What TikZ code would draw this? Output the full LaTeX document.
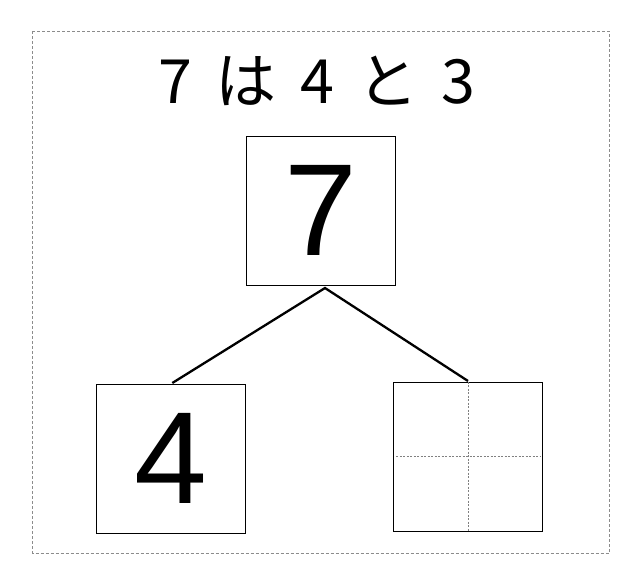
\documentclass[tikz,border=0pt]{standalone}
\usepackage{fontspec}
\newfontfamily\cjk{Noto Sans CJK JP}
\newfontfamily\digits{Liberation Sans}
\newcommand\tgap{\hspace{0.38em}}
\tikzset{
  numbox/.style={draw=black, line width=1pt, minimum width=149pt, minimum height=149pt, inner sep=0pt, font=\digits\fontsize{131}{131}\selectfont},
  frame/.style={draw=gray!90, line width=0.8pt, dash pattern=on 3pt off 2pt},
  guide/.style={draw=gray, line width=0.6pt, dash pattern=on 2pt off 1.5pt},
  link/.style={draw=black, line width=2.3pt}
}
\begin{document}
\begin{tikzpicture}[x=1pt,y=-1pt]
\useasboundingbox (0,0) rectangle (642,584);
\draw[frame] (32.5,31) rectangle (609,553);
\node[font=\cjk\fontsize{61}{61}\selectfont, anchor=base, inner sep=0pt] (title) at (317,103) {7\tgap は\tgap 4\tgap と\tgap 3};
\node[numbox] (seven) at (321,210.7) {7};
\node[numbox] (four) at (171,458.7) {4};
\node[numbox] (blank) at (468,456.7) {};
\coordinate (apex) at (325,288);
\coordinate (lend) at (172.3,383);
\coordinate (rend) at (468,381);
\draw[link] (lend) -- (apex) -- (rend);
\draw[guide] (blank.north) -- (blank.south);
\draw[guide] ([xshift=3pt]blank.west) -- ([xshift=-3pt]blank.east);
\end{tikzpicture}
\end{document}
